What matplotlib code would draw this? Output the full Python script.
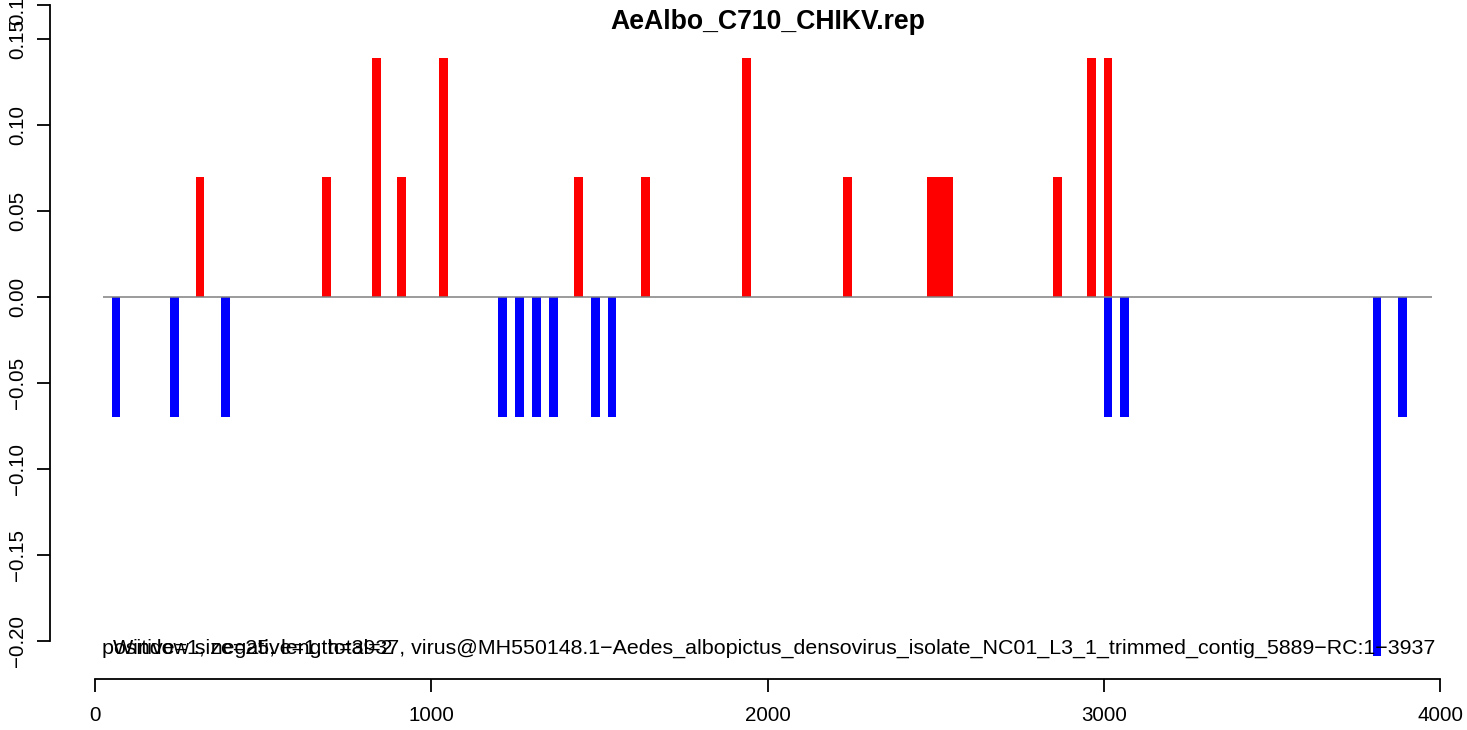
import matplotlib
matplotlib.use("Agg")
import matplotlib.pyplot as plt

plt.rcParams['font.family'] = ['Liberation Sans', 'DejaVu Sans']

# bar centres (nt) and heights
red_pos = [312.5, 687.5, 837.5, 912.5, 1037.5, 1437.5, 1637.5, 1937.5, 2237.5,
           2487.5, 2512.5, 2537.5, 2862.5, 2962.5, 3012.5]
red_val = [0.0695, 0.0695, 0.139, 0.0695, 0.139, 0.0695, 0.0695, 0.139, 0.0695,
           0.0695, 0.0695, 0.0695, 0.0695, 0.139, 0.139]
blue_pos = [62.5, 237.5, 387.5, 1212.5, 1262.5, 1312.5, 1362.5, 1487.5, 1537.5,
            3012.5, 3062.5, 3812.5, 3887.5]
blue_val = [-0.0695, -0.0695, -0.0695, -0.0695, -0.0695, -0.0695, -0.0695, -0.0695,
            -0.0695, -0.0695, -0.0695, -0.2085, -0.0695]

yticks = [-0.20, -0.15, -0.10, -0.05, 0.00, 0.05, 0.10, 0.15, 0.17]
ylabels = ["\u22120.20", "\u22120.15", "\u22120.10", "\u22120.05", "0.00", "0.05",
           "0.10", "0.15", "0.17"]
xticks = [0, 1000, 2000, 3000, 4000]

title = "AeAlbo_C710_CHIKV.rep"
info1 = "positive=1, negative=1, total=2"
info2 = ("Window size=25, length=3937, virus@MH550148.1\u2212Aedes_albopictus_densovirus_"
         "isolate_NC01_L3_1_trimmed_contig_5889\u2212RC:1\u22123937")

W, H = 1467, 730
fig = plt.figure(figsize=(W/100, H/100), dpi=100)
# axes: x 0..4000 over px 95..1440, y px 0..660
ax = fig.add_axes([95/W, (H-660)/H, 1345/W, 660/H])
ax.set_xlim(0, 4000)
ax.set_ylim(-(660-297)/1720, 297/1720)
ax.patch.set_alpha(0)

ax.bar(red_pos, red_val, width=26, color='#ff0000', linewidth=0)
ax.bar(blue_pos, blue_val, width=26, color='#0000ff', linewidth=0)
ax.hlines(0, 24, 3976, color='#808080', lw=1.1)

for s in ['top', 'right']:
    ax.spines[s].set_visible(False)
ax.spines['left'].set_position(('data', -45/0.33625))
ax.spines['left'].set_bounds(-0.2, 0.17)
ax.spines['bottom'].set_position(('data', -(679-297)/1720))
ax.spines['bottom'].set_bounds(0, 4000)
for s in ['left', 'bottom']:
    ax.spines[s].set_linewidth(1.3)

ax.set_yticks(yticks)
ax.set_yticklabels(ylabels, rotation=90, va='center')
ax.set_xticks(xticks)
ax.tick_params(axis='both', direction='out', length=9.5, width=1.3, labelsize=14.8)
ax.tick_params(axis='y', pad=7)
ax.tick_params(axis='x', pad=10)

fig.text(767.5/W, 1-22/H, title, ha='center', va='center', fontsize=19.2, fontweight='bold')
ax.text(22, -(648-297)/1720, info1, ha='left', va='center', fontsize=15.4)
ax.text(54, -(648-297)/1720, info2, ha='left', va='center', fontsize=15.4)

fig.savefig("out.png", dpi=100)
